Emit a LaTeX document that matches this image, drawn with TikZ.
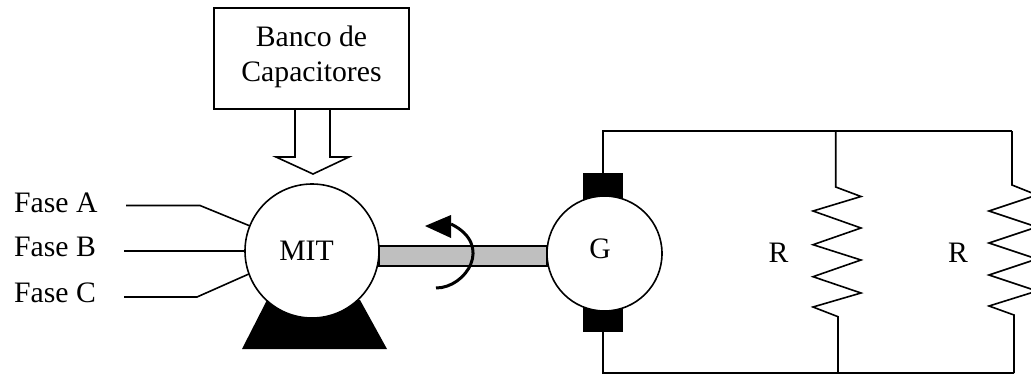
\documentclass[tikz,border=0pt]{standalone}
\usepackage{fontspec}
\setmainfont{Liberation Serif}
\usetikzlibrary{arrows.meta,positioning}
\definecolor{shaftgray}{RGB}{191,191,191}

\begin{document}
\begin{tikzpicture}[x=1pt,y=-1pt,>=Stealth, every node/.style={font=\fontsize{29.7}{35}\selectfont}]
    \tikzset{wire/.style={draw,line width=1.6pt}}
    \tikzset{labeltext/.style={inner sep=0pt,anchor=base}}
    \tikzset{fasetext/.style={inner sep=0pt,anchor=base west}}
    \tikzset{machine/.style={circle,draw,fill=white,line width=1.6pt,inner sep=0pt,outer sep=0pt}}
    \tikzset{brush/.style={fill=black,inner sep=0pt,outer sep=0pt,minimum width=40pt,minimum height=27pt}}
    \clip (0,0) rectangle (1031,375);

    % Capacitor bank and its hollow arrow
    \node[draw,line width=1.6pt,align=center,inner sep=0pt,outer sep=0pt,minimum width=195pt,minimum height=101pt] (banco) at (311.5,58.5) {Banco de\\Capacitores\rule[-10pt]{0pt}{0pt}};
    \coordinate (arrowtip) at (313,174);
    \draw[wire,line join=miter] (295,109) -- (295,157) -- (276,157) -- (arrowtip) -- (349,157) -- (330,157) -- (330,109);

    % Shaft, base, motor
    \node[draw,fill=shaftgray,line width=1.6pt,inner sep=0pt,minimum width=168pt,minimum height=20pt] (shaft) at (463,256) {};
    \fill (242,349) -- (387,349) -- (360,300) -- (267,300) -- cycle;
    \node[machine,minimum size=134pt] (mit) at (312,251) {};
    \node[labeltext] (mittext) at (306.5,260) {MIT};

    % Phases
    \node[fasetext] (fasea) at (14,212) {Fase A};
    \node[fasetext] (faseb) at (14,256) {Fase B};
    \node[fasetext] (fasec) at (14,302) {Fase C};
    \coordinate (ain) at (126,205.5);
    \coordinate (bin) at (124,251);
    \coordinate (cin) at (124,297);
    \draw[wire] (ain) -- (200,205.5) -- (mit.158.7);
    \draw[wire] (bin) -- (mit.180);
    \draw[wire] (cin) -- (197,297) -- (mit.200.6);

    % Rotation arrow
    \draw[line width=3pt] (436,288) .. controls (466,288) and (494,245) .. (451,224);
    \fill (425,226) -- (451,215) -- (451,238) -- cycle;

    % Generator
    \node[brush] (brushtop) at (603,186.5) {};
    \node[brush] (brushbot) at (603,318) {};
    \node[machine,minimum size=115pt] (gen) at (604.5,253.5) {};
    \node[labeltext] (gentext) at (600,258) {G};

    % Load
    \coordinate (topa) at (835.7,131);
    \coordinate (topb) at (1012,131);
    \coordinate (bota) at (838,373);
    \coordinate (botb) at (1014,373);
    \draw[wire] (brushtop.north) |- (topb);
    \draw[wire] (brushbot.south) |- (botb);
    \draw[wire,line join=miter] (topa) -- (835.7,187) -- (861,196.5) -- (813,211) -- (861,228) -- (813,244.7)
      -- (861,260) -- (813,276.7) -- (861,293) -- (813,307) -- (838,316.7) -- (bota);
    \draw[wire,line join=miter] (topb) -- (1012,185) -- (1037,195) -- (989,211) -- (1037,227) -- (989,243)
      -- (1037,259) -- (989,275) -- (1037,291) -- (989,306) -- (1014,315) -- (botb);
    \node[labeltext] (ra) at (778.5,262) {R};
    \node[labeltext] (rb) at (958,262) {R};
\end{tikzpicture}
\end{document}
